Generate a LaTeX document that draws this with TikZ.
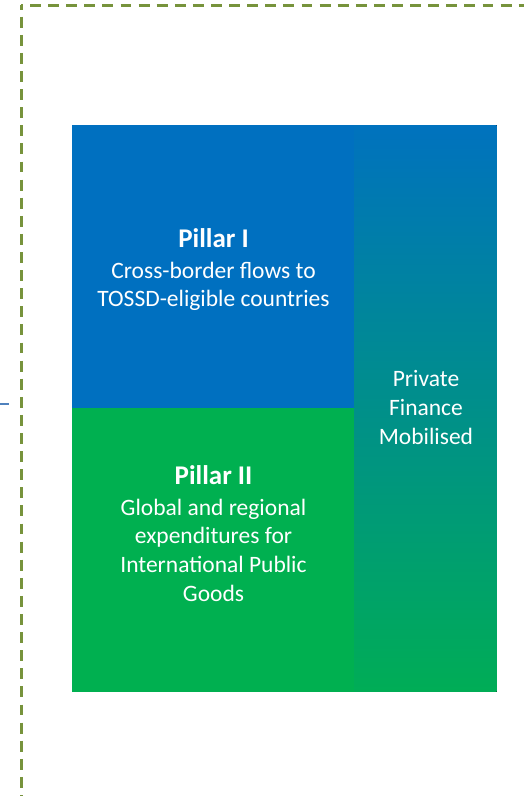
\documentclass[tikz,border=0pt]{standalone}
\usepackage{fontspec}
\setmainfont{Carlito}
\begin{document}
\begin{tikzpicture}[x=1pt,y=-1pt,
  label text/.style={text=white, inner sep=0pt, anchor=base,
    font=\fontsize{23.5}{28}\selectfont},
  title text/.style={text=white, inner sep=0pt, anchor=base,
    font=\fontsize{27}{31}\selectfont\bfseries},
  frame line/.style={draw=frameolive, line width=3pt,
    dash pattern=on 10.9pt off 7.2pt}]
\definecolor{pillarblue}{HTML}{0070C0}
\definecolor{pillargreen}{HTML}{00B050}
\definecolor{coltop}{HTML}{0072BE}
\definecolor{colbottom}{HTML}{00AD56}
\definecolor{frameolive}{HTML}{77933C}
\definecolor{tickblue}{HTML}{4F81BD}
\useasboundingbox (0,0) rectangle (524,796);
\clip (0,0) rectangle (524,796);

% dashed outer frame (runs past the right and bottom edges)
\draw[frame line, dash phase=9.1pt] (21,5) -- (560,5);
\draw[frame line, dash phase=6.4pt] (21,5) -- (21,830);

% short blue connector stub on the left
\coordinate (stubA) at (0,403.7);
\coordinate (stubB) at (9.3,403.7);
\draw[tickblue, line width=1.8pt] (stubA) -- (stubB);

% pillar blocks
\fill[pillarblue] (71.5,125) rectangle (355,408);
\fill[pillargreen] (71.5,408) rectangle (355,691.5);
% private finance column
\fill[top color=coltop, bottom color=colbottom] (354,125) rectangle (496.7,691.5);

% Pillar I
\node[title text] (p1title) at (213.5,247.3) {Pillar I};
\node[label text] (p1a) at (213.5,278) {Cross-border flows to};
\node[label text] (p1b) at (213.5,306.7) {TOSSD-eligible countries};

% Pillar II
\node[title text] (p2title) at (213.5,484.3) {Pillar II};
\node[label text] (p2a) at (213.5,515) {Global and regional};
\node[label text] (p2b) at (213.5,543.7) {expenditures for};
\node[label text] (p2c) at (213.5,572.4) {International Public};
\node[label text] (p2d) at (213.5,601.1) {Goods};

% Private finance
\node[label text] (pfa) at (426,386.7) {Private};
\node[label text] (pfb) at (426,415) {Finance};
\node[label text] (pfc) at (426,444) {Mobilised};
\end{tikzpicture}
\end{document}
